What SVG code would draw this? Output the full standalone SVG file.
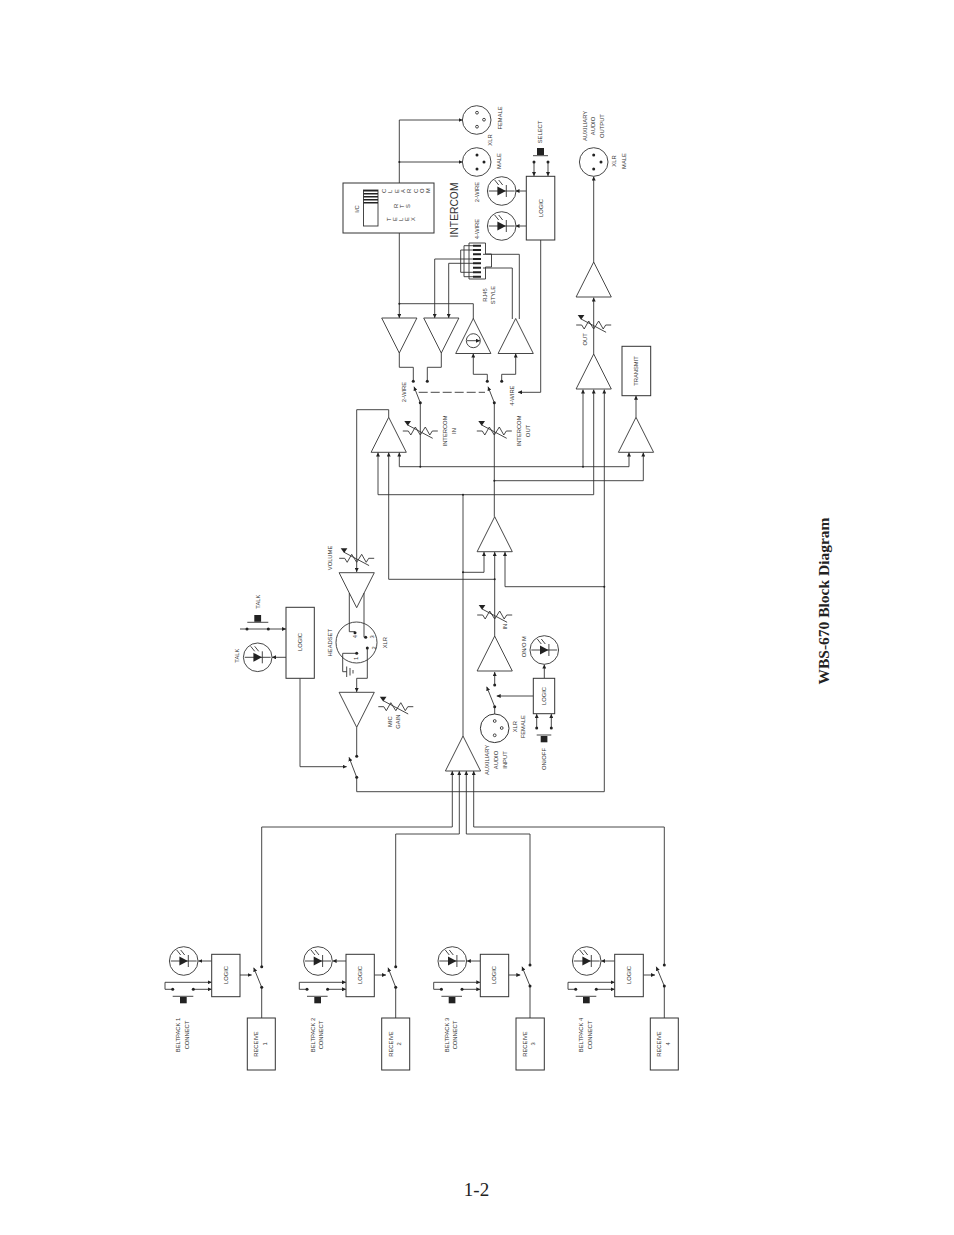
<svg xmlns="http://www.w3.org/2000/svg" xmlns:xlink="http://www.w3.org/1999/xlink" width="954" height="1235" viewBox="0 0 954 1235">
<style>
.c{fill:none;stroke:#333;stroke-width:.9}
.a{marker-end:url(#arr)}
.s{fill:none;stroke:#333;stroke-width:.9}
.b{fill:#fff;stroke:#333;stroke-width:1}
.k{fill:#222;stroke:none}
text{font-family:"Liberation Sans",Arial,sans-serif;font-size:5.8px;fill:#333;text-anchor:middle}
</style>
<defs>
<marker id="arr" markerUnits="userSpaceOnUse" markerWidth="4" markerHeight="4" refX="4" refY="2" orient="auto"><path d="M0 0L4 2L0 4z" fill="#222"/></marker>
<circle id="d" r="1.500" fill="#222"/>
<circle id="j" r="1" fill="#222"/>
<polygon id="ampU" class="s" points="0,0 17.6,35 -17.6,35"/>
<polygon id="ampD" class="s" points="0,0 17.6,-35 -17.6,-35"/>
<g id="pot"><path class="s" d="M-17.5 0H-12L-9.5 4L-5 -4L0 4L5 -4L9.5 4L12 0H17.5"/><path class="s" d="M-12.6 -6L12.4 7.3"/><path class="k" d="M-16 -10H-9.3L-12.6 -5.3z"/></g>
<g id="led"><circle class="s" r="14.3"/><path class="s" d="M-13 0H13M4.6 -6V6"/><path class="k" d="M-4.3 -4.5L4.2 0L-4.3 4.5z"/><path class="s" d="M-7 -11L-3 -6M-3 -11L1 -6"/></g>
</defs>
<g id="connectors">
<path class="c a" d="M399.3 120H462.5"/>
<path class="c" d="M399.3 120V183M399.3 233V303.7"/>
<path class="c a" d="M399.3 162H462.5"/>
<path class="c a" d="M399.3 303.7V318"/>
<path class="c" d="M399.3 303.7H473.3V319"/>
<path class="c a" d="M473 259H434.7V318"/>
<path class="c a" d="M473 263.3H448.7V318"/>
<path class="c" d="M473 245.7H464V276.7H473M473 250H460.7V272.3H473"/>
<path class="c" d="M483 254.3H519.3V319M483 268H512.3V319"/>
<path class="c a" d="M526 191H515.500"/>
<path class="c a" d="M526 226H515.500"/>
<path class="c a" d="M534 162V176"/>
<path class="c a" d="M548 162V176"/>
<path class="c a" d="M593.7 262V176.5"/>
<path class="c a" d="M593.7 354V297.5"/>
<path class="c a" d="M540.7 240V392.3H518"/>
<path class="c" d="M399.3 352.7V367.3H413.3V381.3M441.3 352.7V367.3H427.3V381.3"/>
<path class="c a" d="M487.3 381.3V374.3H473.3V353.5"/>
<path class="c a" d="M501.7 381.3V374.3H515.7V353.5"/>
<path class="c a" d="M420.3 402.7L414 386.7"/>
<path class="c a" d="M494.3 402.7L488 386.7"/>
<path class="c" style="stroke-dasharray:9 3" d="M418.7 392.3H485"/>
<path class="c" d="M420.3 402.7V466.7"/>
<path class="c" d="M494.3 402.7V516.7"/>
<path class="c a" d="M636 417.3V395.8"/>
<path class="c a" d="M399.3 466.7V452.5"/>
<path class="c a" d="M399.3 466.7H629V452.5"/>
<path class="c a" d="M583 466.7V389.5"/>
<path class="c a" d="M494.3 480.7H643.3V452.5"/>
<path class="c a" d="M378 494.7H593.7V389.5"/>
<path class="c a" d="M378 494.7V452.5"/>
<path class="c a" d="M388.7 579.3V452.5"/>
<path class="c" d="M388.7 579.3H494.7"/>
<path class="c" d="M463 494.7V736"/>
<path class="c a" d="M463 572.3H484V552"/>
<path class="c a" d="M494.7 636V552"/>
<path class="c a" d="M604.3 586.7H505V552"/>
<path class="c a" d="M356.7 777.3V791.7H604.3V389.5"/>
<path class="c a" d="M388.7 417.3V409.7H356.7V572"/>
<path class="c" d="M349.3 593V631.7H355M364 593V637.3H365.7"/>
<path class="c" d="M356.7 653.3H342.7V671.7H346.7"/>
<path class="c a" d="M367.3 648V678.3H356.7V692"/>
<path class="c" d="M356.7 727.3V756.3"/>
<path class="c a" d="M300 678.3V766.7H346.7"/>
<path class="c a" d="M356.7 777.3L349 757.3"/>
<path class="c a" d="M286 657.3H272"/>
<path class="c a" d="M240 629H286"/>
<path class="c a" d="M494.7 685V672"/>
<path class="c a" d="M494.7 706.7L486.7 686.7"/>
<path class="c a" d="M533.3 696H496.700"/>
<path class="c" d="M494.7 706.7V714"/>
<path class="c a" d="M544.3 678.3V664.5"/>
<path class="c a" d="M536.7 728V714"/>
<path class="c a" d="M551.3 728V714"/>
<path class="c a" d="M261.7 966.7V827H452.3V771"/>
<path class="c a" d="M395.7 966.7V834H459.3V771"/>
<path class="c a" d="M530 965V834H466.3V771"/>
<path class="c a" d="M664.3 965V827H473.7V771"/>
<path class="c" d="M261.7 987.3V1018M395.7 987.3V1018M530 986V1018M664.3 986V1018"/>
<path class="c a" d="M261.7 987.3L253.7 967.7"/>
<path class="c a" d="M395.7 987.3L388 967.7"/>
<path class="c a" d="M530 986L522 966.7"/>
<path class="c a" d="M664.3 986L656.3 966.7"/>
<path class="c a" d="M240 975H251.7"/><path class="c a" d="M374.3 975H386"/><path class="c a" d="M508.7 975H520.3"/><path class="c a" d="M643.3 975H655"/>
<path class="c a" d="M211.7 961H198.3"/><path class="c a" d="M346 961H332.6"/><path class="c a" d="M480.3 961H466.8"/><path class="c a" d="M614.7 961H601.2"/>
<path class="c a" d="M172.7 989.3H165V982.3H211.7"/><path class="c a" d="M193.3 989.3H211.7"/>
<path class="c a" d="M307 989.3H299.3V982.3H346"/><path class="c a" d="M327.6 989.3H346"/>
<path class="c a" d="M441.4 989.3H433.7V982.3H480.3"/><path class="c a" d="M462 989.3H480.3"/>
<path class="c a" d="M575.7 989.3H568V982.3H614.7"/><path class="c a" d="M596.3 989.3H614.7"/>
</g>
<g id="jack-female"><circle class="s" cx="476.7" cy="120" r="14.3"/><circle class="s" cx="477" cy="112.7" r="1.4"/><circle class="s" cx="484" cy="119.7" r="1.4"/><circle class="s" cx="477" cy="126.7" r="1.4"/><text transform="translate(492,140) rotate(-90)">XLR</text><text transform="translate(502,118) rotate(-90)">FEMALE</text></g>
<g id="jack-male"><circle class="s" cx="476.7" cy="162" r="14.3"/><use xlink:href="#d" x="477" y="155"/><use xlink:href="#d" x="484" y="162"/><use xlink:href="#d" x="477" y="169"/><text transform="translate(501,161) rotate(-90)">MALE</text></g>
<g id="ic-switch"><rect class="b" x="343" y="183" width="91" height="50"/><rect class="s" x="363.5" y="190" width="14.5" height="36"/><path class="k" d="M363.5 190h14.500v1.500h-14.500zM363.500 193h14.500v1.500h-14.500zM363.500 196h14.500v1.500h-14.500zM363.500 199h14.500v1.500h-14.500zM363.500 202h14.500v1.500h-14.500z"/>
<text transform="translate(358.500,209) rotate(-90)">I/C</text>
<text style="text-anchor:start" x="386 392.300 398.600 404.900 411.200 417.500 423.800 430.100" y="193" rotate="-90">CLEARCOM</text>
<text style="text-anchor:start" x="398 404 410" y="208" rotate="-90">RTS</text>
<text style="text-anchor:start" x="391 397 403 409 415" y="221" rotate="-90">TELEX</text></g>
<g id="intercom-title"><text style="font-size:10.300px" transform="translate(458,210) rotate(-90)">INTERCOM</text></g>
<g id="led-2wire"><use xlink:href="#led" x="501.700" y="191"/><text transform="translate(479,192) rotate(-90)">2-WIRE</text></g>
<g id="led-4wire"><use xlink:href="#led" x="501.700" y="226"/><text transform="translate(479,229) rotate(-90)">4-WIRE</text></g>
<g id="logic-select"><rect class="b" x="526.300" y="176.300" width="28.500" height="63.700"/><text transform="translate(542.500,208) rotate(-90)">LOGIC</text><rect class="k" x="537" y="148" width="7" height="7"/><path class="s" d="M533 155.700H548"/><use xlink:href="#d" x="534" y="162"/><use xlink:href="#d" x="548" y="162"/><text transform="translate(542,132) rotate(-90)">SELECT</text></g>
<g id="aux-out-jack"><circle class="s" cx="593.700" cy="162" r="14.300"/><use xlink:href="#d" x="593.700" y="155"/><use xlink:href="#d" x="601" y="162"/><use xlink:href="#d" x="593.700" y="169"/><text transform="translate(587,126) rotate(-90)">AUXILIARY</text><text transform="translate(595,126) rotate(-90)">AUDIO</text><text transform="translate(603.500,126) rotate(-90)">OUTPUT</text><text transform="translate(616,161) rotate(-90)">XLR</text><text transform="translate(626,161) rotate(-90)">MALE</text></g>
<g id="amp-aux-out"><use xlink:href="#ampU" x="593.700" y="262"/></g>
<g id="rj45"><path class="s" d="M469 243H485.500V254H491.500V267H485.500V279H469z"/><path style="stroke:#222;stroke-width:2;fill:none" d="M473 245.700H481M473 250H481M473 254.300H481M473 259H481M473 263.300H481M473 267.700H481M473 272.300H481M473 276.700H481"/><text transform="translate(487,295) rotate(-90)">RJ45</text><text transform="translate(495,295) rotate(-90)">STYLE</text></g>
<g id="amp-a"><use xlink:href="#ampD" x="399.300" y="353"/></g>
<g id="amp-b"><use xlink:href="#ampD" x="441.300" y="353"/></g>
<g id="amp-c"><use xlink:href="#ampU" x="473.300" y="318.500"/><circle class="s" cx="473.300" cy="340.700" r="7"/><path class="c a" d="M467 340.700H480"/></g>
<g id="amp-d"><use xlink:href="#ampU" x="515.700" y="318.500"/></g>
<g id="switch-2wire"><use xlink:href="#d" x="413.300" y="381.300"/><use xlink:href="#d" x="427.300" y="381.300"/><use xlink:href="#d" x="420.300" y="402.700"/><text transform="translate(406,392) rotate(-90)">2-WIRE</text></g>
<g id="switch-4wire"><use xlink:href="#d" x="487.300" y="381.300"/><use xlink:href="#d" x="501.700" y="381.300"/><use xlink:href="#d" x="494.300" y="402.700"/><text transform="translate(514,395.700) rotate(-90)">4-WIRE</text></g>
<g id="pot-in"><use xlink:href="#pot" x="420.300" y="431"/><text transform="translate(447,431) rotate(-90)">INTERCOM</text><text transform="translate(456,431) rotate(-90)">IN</text></g>
<g id="pot-out"><use xlink:href="#pot" x="494.300" y="431"/><text transform="translate(521,431) rotate(-90)">INTERCOM</text><text transform="translate(530,431) rotate(-90)">OUT</text></g>
<g id="pot-output"><use xlink:href="#pot" x="593.700" y="325"/><text transform="translate(587,339.300) rotate(-90)">OUT</text></g>
<g id="amp-out"><use xlink:href="#ampU" x="593.700" y="354"/></g>
<g id="transmit"><rect class="b" x="622" y="346.300" width="28.700" height="49.400"/><text transform="translate(638,371) rotate(-90)">TRANSMIT</text></g>
<g id="amp-transmit"><use xlink:href="#ampU" x="636" y="417.300"/></g>
<g id="amp-e"><use xlink:href="#ampU" x="388.700" y="417.300"/></g>
<g id="amp-g"><use xlink:href="#ampU" x="494.700" y="516.700"/></g>
<g id="pot-volume"><use xlink:href="#pot" x="356.700" y="558.300"/><text transform="translate(332,558) rotate(-90)">VOLUME</text></g>
<g id="amp-volume"><use xlink:href="#ampD" x="356.700" y="607.700"/></g>
<g id="pot-aux-in"><use xlink:href="#pot" x="494.700" y="615"/><text transform="translate(507,626.700) rotate(-90)">IN</text></g>
<g id="amp-in"><use xlink:href="#ampU" x="494.700" y="636"/></g>
<g id="logic-talk"><rect class="b" x="286" y="607.300" width="28.300" height="71"/><text transform="translate(302,642) rotate(-90)">LOGIC</text><rect class="k" x="254.300" y="615" width="6.800" height="6.800"/><path class="s" d="M247.300 622.300H268.300"/><use xlink:href="#d" x="247" y="629"/><use xlink:href="#d" x="268.300" y="629"/><text transform="translate(259.500,601.700) rotate(-90)">TALK</text></g>
<g id="led-talk"><use xlink:href="#led" x="257.700" y="657.300"/><text transform="translate(238.500,655.700) rotate(-90)">TALK</text></g>
<g id="headset-xlr"><circle class="s" cx="356.500" cy="642.500" r="20.500"/><use xlink:href="#d" x="355" y="632.700"/><use xlink:href="#d" x="365.700" y="637.300"/><use xlink:href="#d" x="367.300" y="648"/><use xlink:href="#d" x="356.700" y="653.300"/>
<text transform="translate(356.500,636.700) rotate(-90)">4</text><text transform="translate(374,637) rotate(-90)">3</text><text transform="translate(376.300,648) rotate(-90)">2</text><text transform="translate(358,658.300) rotate(-90)">1</text>
<text transform="translate(332,642.700) rotate(-90)">HEADSET</text><text transform="translate(387,642.700) rotate(-90)">XLR</text>
<path class="s" d="M346.700 666.500V677M350 668V675.500M353 670V673.500"/></g>
<g id="amp-mic"><use xlink:href="#ampD" x="356.700" y="727.300"/></g>
<g id="pot-mic"><use xlink:href="#pot" x="395.800" y="706.700"/><text transform="translate(392,721.700) rotate(-90)">MIC</text><text transform="translate(400.300,721.700) rotate(-90)">GAIN</text></g>
<g id="switch-mic"><use xlink:href="#d" x="356.700" y="756.300"/><use xlink:href="#d" x="356.700" y="777.300"/></g>
<g id="amp-mix"><use xlink:href="#ampU" x="463" y="736"/></g>
<g id="aux-in-jack"><circle class="b" cx="494.700" cy="728.300" r="14.300"/><circle class="s" cx="494.700" cy="721" r="1.400"/><circle class="s" cx="501.700" cy="728" r="1.400"/><circle class="s" cx="494.700" cy="735.300" r="1.400"/><text transform="translate(488.500,760) rotate(-90)">AUXILIARY</text><text transform="translate(497.500,760) rotate(-90)">AUDIO</text><text transform="translate(507,760) rotate(-90)">INPUT</text><text transform="translate(517,726.700) rotate(-90)">XLR</text><text transform="translate(525,726.700) rotate(-90)">FEMALE</text></g>
<g id="switch-aux"><use xlink:href="#d" x="494.700" y="685"/><use xlink:href="#d" x="494.700" y="706.700"/></g>
<g id="logic-aux"><rect class="b" x="533.300" y="678.300" width="21.400" height="35.400"/><text transform="translate(546,696) rotate(-90)">LOGIC</text><use xlink:href="#d" x="536.700" y="728"/><use xlink:href="#d" x="551.300" y="728"/><path class="s" d="M536.700 735H551.300"/><rect class="k" x="540.700" y="736" width="6.700" height="6.300"/><text transform="translate(546,759) rotate(-90)">ON/OFF</text></g>
<g id="led-aux"><use xlink:href="#led" x="544.300" y="650"/><text transform="translate(526,646.700) rotate(-90)">ON/O M</text></g>
<g id="beltpack-1"><use xlink:href="#led" x="183.700" y="961"/><rect class="b" x="211.700" y="954.300" width="28.300" height="42.400"/><text transform="translate(227.700,975) rotate(-90)">LOGIC</text><use xlink:href="#d" x="172.700" y="989.300"/><use xlink:href="#d" x="193.300" y="989.300"/><path class="s" d="M172.700 996.300H193.300"/><rect class="k" x="180" y="997" width="6.700" height="6.300"/><use xlink:href="#d" x="261.700" y="966.700"/><use xlink:href="#d" x="261.700" y="987.300"/><text transform="translate(180.300,1035) rotate(-90)">BELTPACK 1</text><text transform="translate(188.700,1035) rotate(-90)">CONNECT</text><rect class="b" x="247.300" y="1018" width="28" height="52"/><text transform="translate(258.300,1044) rotate(-90)">RECEIVE</text><text transform="translate(266.700,1044) rotate(-90)">1</text></g>
<g id="beltpack-2"><use xlink:href="#led" x="318" y="961"/><rect class="b" x="346" y="954.300" width="28.300" height="42.400"/><text transform="translate(362,975) rotate(-90)">LOGIC</text><use xlink:href="#d" x="307" y="989.300"/><use xlink:href="#d" x="327.600" y="989.300"/><path class="s" d="M307 996.300H327.600"/><rect class="k" x="314.300" y="997" width="6.700" height="6.300"/><use xlink:href="#d" x="395.700" y="966.700"/><use xlink:href="#d" x="395.700" y="987.300"/><text transform="translate(314.600,1035) rotate(-90)">BELTPACK 2</text><text transform="translate(323,1035) rotate(-90)">CONNECT</text><rect class="b" x="381.700" y="1018" width="28" height="52"/><text transform="translate(392.700,1044) rotate(-90)">RECEIVE</text><text transform="translate(401,1044) rotate(-90)">2</text></g>
<g id="beltpack-3"><use xlink:href="#led" x="452.300" y="961"/><rect class="b" x="480.300" y="954.300" width="28.400" height="42.400"/><text transform="translate(496.300,975) rotate(-90)">LOGIC</text><use xlink:href="#d" x="441.400" y="989.300"/><use xlink:href="#d" x="462" y="989.300"/><path class="s" d="M441.400 996.300H462"/><rect class="k" x="448.700" y="997" width="6.700" height="6.300"/><use xlink:href="#d" x="530" y="965"/><use xlink:href="#d" x="530" y="986"/><text transform="translate(449,1035) rotate(-90)">BELTPACK 3</text><text transform="translate(457.300,1035) rotate(-90)">CONNECT</text><rect class="b" x="516" y="1018" width="28.300" height="52"/><text transform="translate(527,1044) rotate(-90)">RECEIVE</text><text transform="translate(535.300,1044) rotate(-90)">3</text></g>
<g id="beltpack-4"><use xlink:href="#led" x="586.700" y="961"/><rect class="b" x="614.700" y="954.300" width="28.600" height="42.400"/><text transform="translate(630.700,975) rotate(-90)">LOGIC</text><use xlink:href="#d" x="575.700" y="989.300"/><use xlink:href="#d" x="596.300" y="989.300"/><path class="s" d="M575.700 996.300H596.300"/><rect class="k" x="583" y="997" width="6.700" height="6.300"/><use xlink:href="#d" x="664.300" y="965"/><use xlink:href="#d" x="664.300" y="986"/><text transform="translate(583.300,1035) rotate(-90)">BELTPACK 4</text><text transform="translate(591.700,1035) rotate(-90)">CONNECT</text><rect class="b" x="650.300" y="1018" width="28" height="52"/><text transform="translate(661.300,1044) rotate(-90)">RECEIVE</text><text transform="translate(669.700,1044) rotate(-90)">4</text></g>
<g id="junctions"><use xlink:href="#j" x="399.300" y="162"/><use xlink:href="#j" x="399.300" y="303.700"/><use xlink:href="#j" x="420.300" y="466.700"/><use xlink:href="#j" x="583" y="466.700"/><use xlink:href="#j" x="494.300" y="480.700"/><use xlink:href="#j" x="463" y="494.700"/><use xlink:href="#j" x="463" y="572.300"/><use xlink:href="#j" x="494.700" y="579.300"/><use xlink:href="#j" x="604.300" y="586.700"/></g>
<text style="font-family:'Liberation Serif','Times New Roman',serif;font-weight:bold;font-size:15.500px;fill:#222" transform="translate(829,601) rotate(-90)">WBS-670 Block Diagram</text>
<text style="font-family:'Liberation Serif','Times New Roman',serif;font-size:19px;fill:#222" x="476.500" y="1196">1-2</text>
</svg>
